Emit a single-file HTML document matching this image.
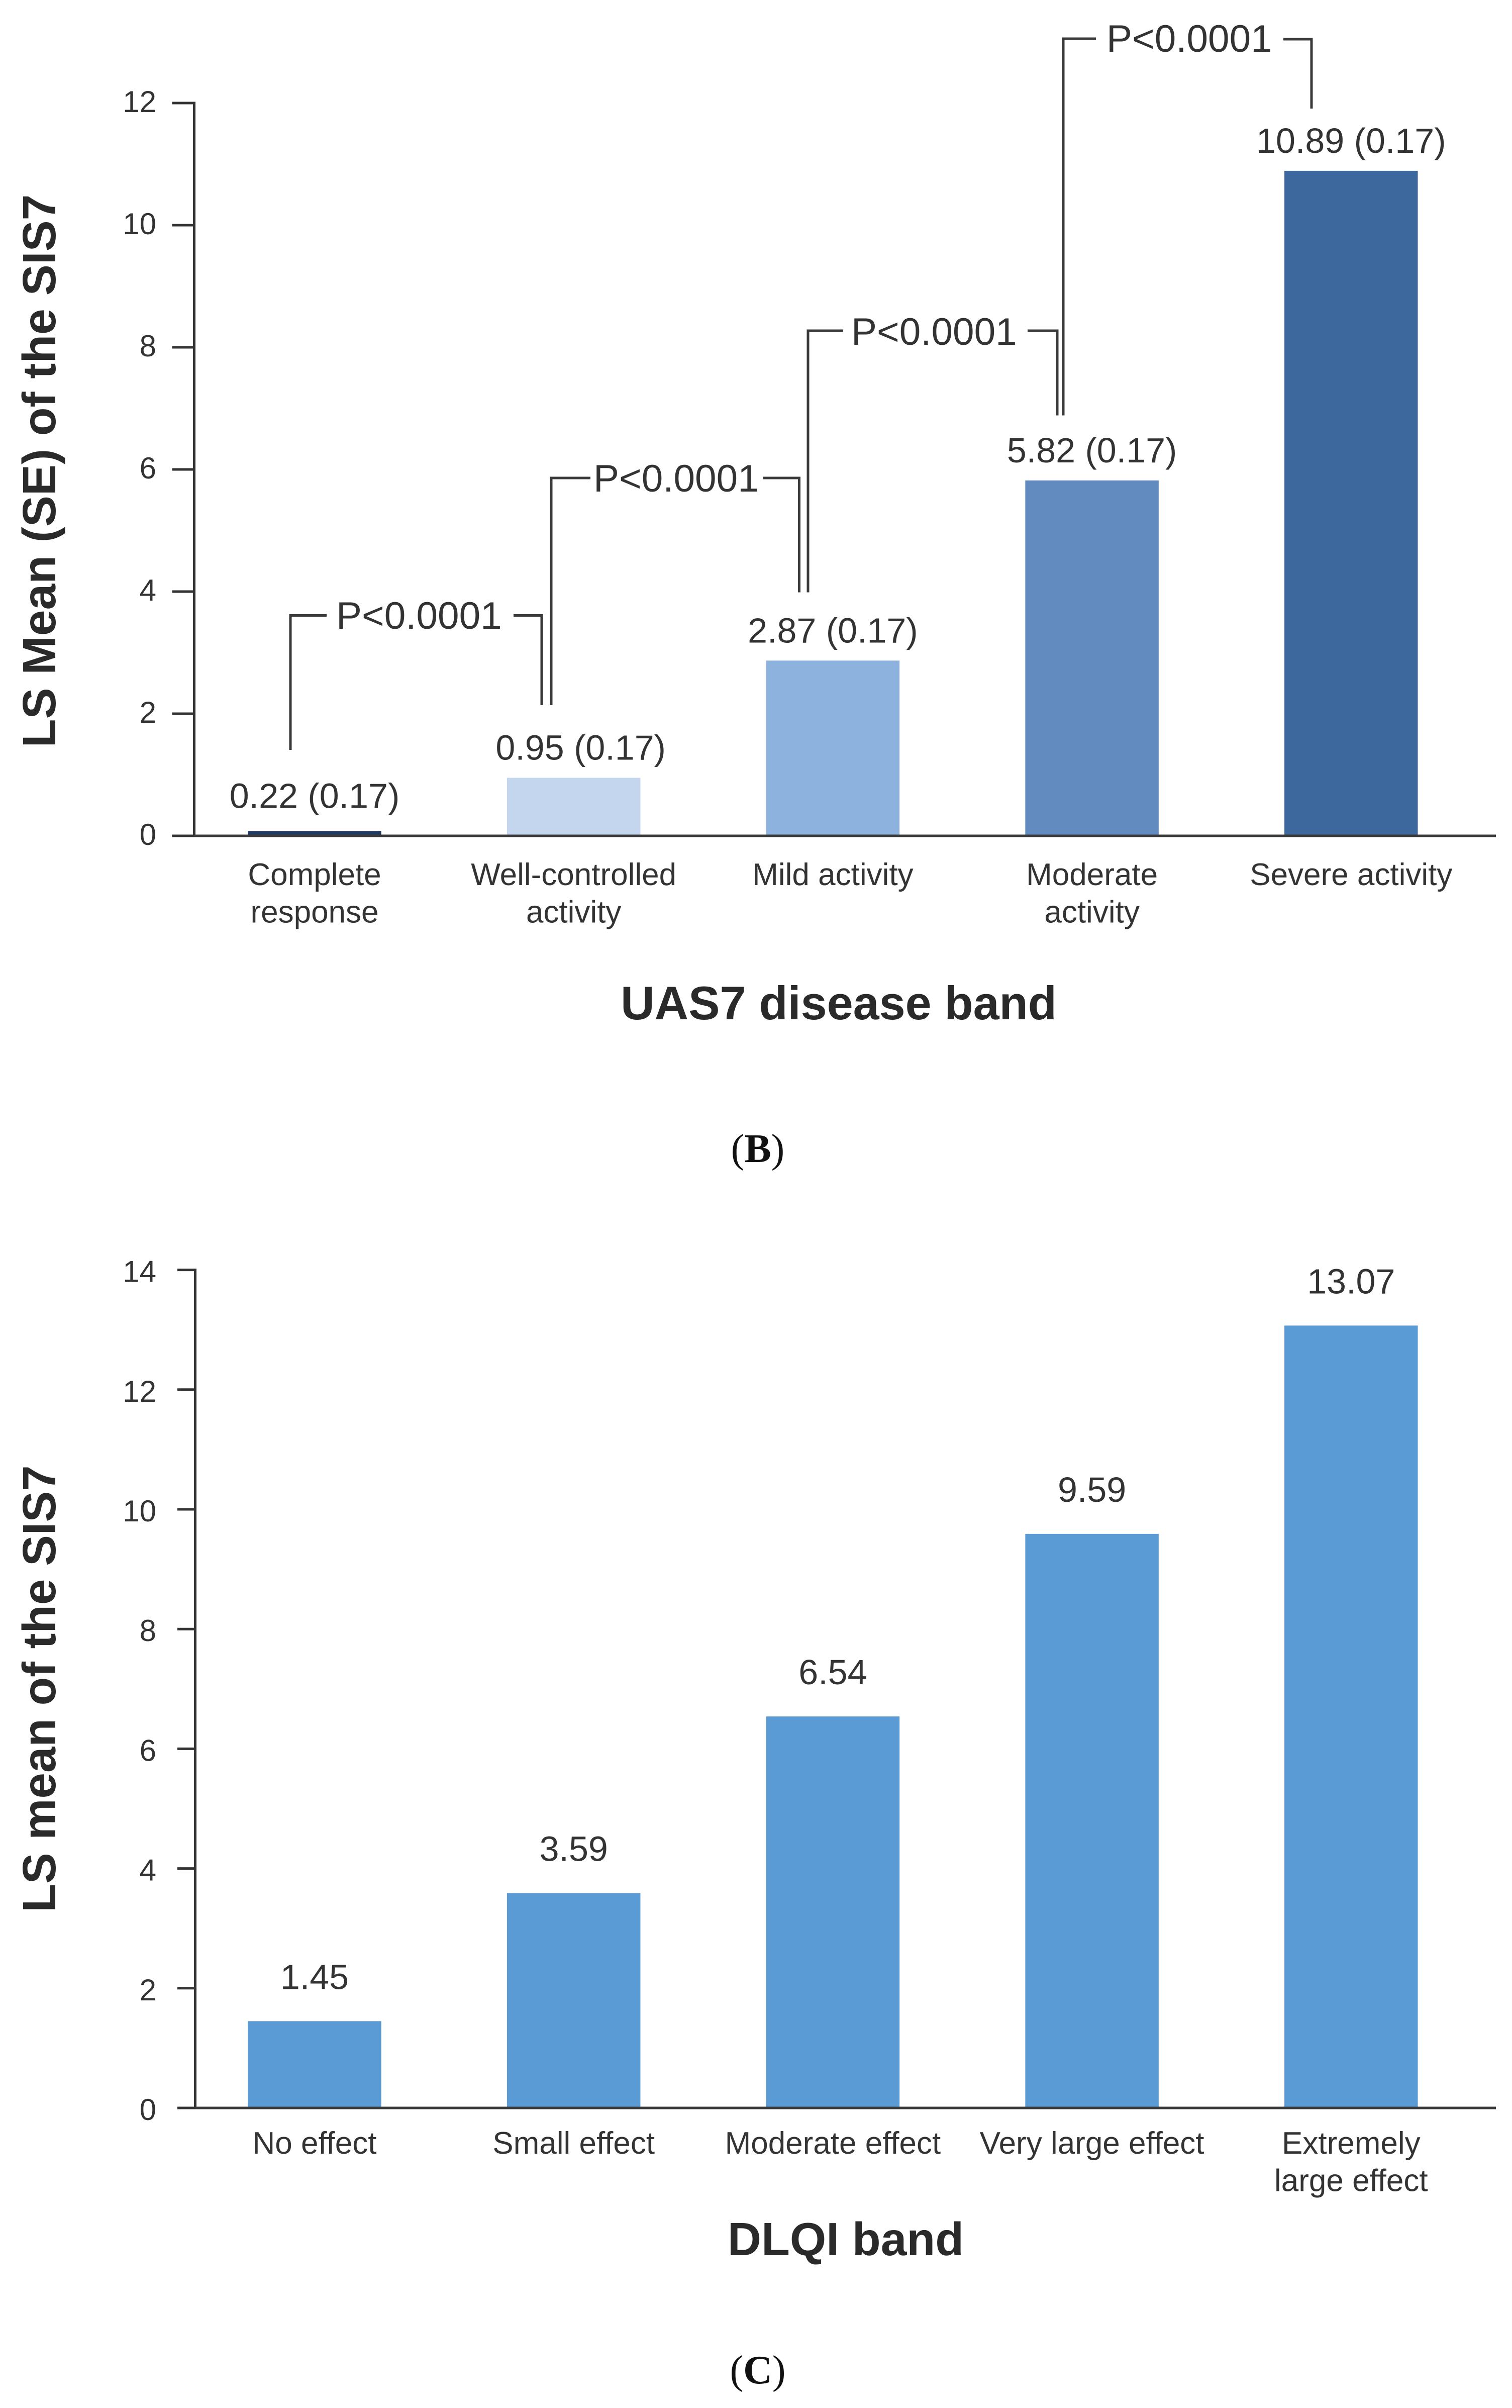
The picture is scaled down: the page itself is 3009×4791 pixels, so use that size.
<!DOCTYPE html>
<html lang="en">
<head>
<meta charset="utf-8">
<title>LS mean of the SIS7 by UAS7 and DLQI band</title>
<style>
  html, body { margin: 0; padding: 0; background: #fff; }
  svg { display: block; }
  text { font-family: "Liberation Sans", sans-serif; fill: #333; }
  .axis-title { font-weight: 700; fill: #2a2a2a; }
  .p-label { font-size: 76.5px; }
  .caption { font-family: "Liberation Serif", serif; font-size: 80px; fill: #111; }
  .bracket { fill: none; stroke: #3a3a3a; stroke-width: 5; }
</style>
</head>
<body>
<svg id="fig" xmlns="http://www.w3.org/2000/svg" width="3009" height="4791" viewBox="0 0 3009 4791">
  <rect x="0" y="0" width="3009" height="4791" fill="#ffffff"/>

  <g id="chart-b">
    <text class="axis-title" font-size="93" transform="translate(110 937) rotate(-90)" text-anchor="middle">LS Mean (SE) of the SIS7</text>
    <text class="axis-title" font-size="93.5" x="1669" y="2028" text-anchor="middle">UAS7 disease band</text>

    <path class="bracket" d="M578 1492V1224.5H650"/>
    <path class="bracket" d="M1022 1224.5H1078V1403"/>
    <text class="p-label" x="669" y="1251">P&lt;0.0001</text>

    <path class="bracket" d="M1097 1403V951H1175"/>
    <path class="bracket" d="M1519 951H1590.5V1178.5"/>
    <text class="p-label" x="1181" y="978">P&lt;0.0001</text>

    <path class="bracket" d="M1608 1178.5V658H1678"/>
    <path class="bracket" d="M2045 658H2104V826.5"/>
    <text class="p-label" x="1694" y="686">P&lt;0.0001</text>

    <path class="bracket" d="M2116 826.5V77H2181"/>
    <path class="bracket" d="M2554 78H2610V216"/>
    <text class="p-label" x="2202" y="103">P&lt;0.0001</text>
  </g>

  <text class="caption" x="1508" y="2312" text-anchor="middle">(<tspan font-weight="700">B</tspan>)</text>

  <g id="chart-c">
    <text class="axis-title" font-size="92.5" transform="translate(110 3360) rotate(-90)" text-anchor="middle">LS mean of the SIS7</text>
    <text class="axis-title" font-size="93" x="1683" y="4487" text-anchor="middle">DLQI band</text>
  </g>

  <text class="caption" x="1508" y="4742" text-anchor="middle">(<tspan font-weight="700">C</tspan>)</text>
</svg>

<script>
// Chart B data
var categoriesB = [["Complete", "response"], ["Well-controlled", "activity"], ["Mild activity"], ["Moderate", "activity"], ["Severe activity"]];
var valuesB = [0.08, 0.95, 2.87, 5.82, 10.89];
var printedB = ["0.22 (0.17)", "0.95 (0.17)", "2.87 (0.17)", "5.82 (0.17)", "10.89 (0.17)"];
var ticksB = [0, 2, 4, 6, 8, 10, 12];
var coloursB = ["#203a63", "#c3d6ee", "#8db2de", "#628bc0", "#3d689d"];

// Chart C data
var categoriesC = [["No effect"], ["Small effect"], ["Moderate effect"], ["Very large effect"], ["Extremely", "large effect"]];
var valuesC = [1.45, 3.59, 6.54, 9.59, 13.07];
var printedC = ["1.45", "3.59", "6.54", "9.59", "13.07"];
var ticksC = [0, 2, 4, 6, 8, 10, 12, 14];
var coloursC = ["#5b9bd5", "#5b9bd5", "#5b9bd5", "#5b9bd5", "#5b9bd5"];

var NS = "http://www.w3.org/2000/svg";

function mk(parent, tag, attrs, content) {
  var el = document.createElementNS(NS, tag);
  for (var k in attrs) { el.setAttribute(k, attrs[k]); }
  if (content !== undefined) { el.textContent = content; }
  parent.appendChild(el);
  return el;
}

function drawChart(parent, suffix, categories, values, printed, ticks, colours, o) {
  function y(v) { return o.y0 - v * o.unit; }
  function x(i) { return o.x0 + i * o.step; }

  values.forEach(function (v, i) {
    var bar = mk(parent, "rect", { x: x(i) - o.barW / 2, y: y(v), width: o.barW, height: o.y0 - y(v), fill: colours[i] });
    
    

    var label = mk(parent, "text", { x: x(i) + o.labelDx(i), y: y(v) - o.labelGap - o.labelDy(i), "text-anchor": "middle", "font-size": 70 }, printed[i]);
    
    

    categories[i].forEach(function (line, j) {
      var cat = mk(parent, "text", { x: x(i), y: o.catY + j * 74.5, "text-anchor": "middle", "font-size": 62 }, line);
      
      
    });
  });

  var yAxis = mk(parent, "line", { x1: o.axisX, x2: o.axisX, y1: y(ticks[ticks.length - 1]) - 2.5, y2: o.y0, stroke: "#333", "stroke-width": 5 });
  
  

  var xAxis = mk(parent, "line", { x1: o.tickX, x2: o.axisEnd, y1: o.y0, y2: o.y0, stroke: "#3a3a3a", "stroke-width": 5 });
  
  

  ticks.forEach(function (t) {
    var tick = mk(parent, "line", { x1: o.tickX, x2: o.axisX, y1: y(t), y2: y(t), stroke: "#333", "stroke-width": 5 });
    
    

    var tickLabel = mk(parent, "text", { x: 311, y: y(t) + o.tickDy, "text-anchor": "end", "font-size": 60 }, String(t));
    
    
  });
}

drawChart(document.getElementById("chart-b"), "b", categoriesB, valuesB, printedB, ticksB, coloursB, {
  y0: 1663, unit: 121.5, x0: 626, step: 515.7, barW: 265.5, axisX: 386.5, tickX: 342.5, axisEnd: 2977,
  labelGap: 36, catY: 1761, tickDy: 18,
  labelDx: function (i) { return i === 1 ? 14 : 0; },
  labelDy: function (i) { return i === 0 ? 10 : 0; }
});

drawChart(document.getElementById("chart-c"), "c", categoriesC, valuesC, printedC, ticksC, coloursC, {
  y0: 4194, unit: 119.1, x0: 626, step: 515.7, barW: 265.5, axisX: 388.5, tickX: 353, axisEnd: 2977,
  labelGap: 64, catY: 4285, tickDy: 24,
  labelDx: function () { return 0; },
  labelDy: function () { return 0; }
});
</script>
</body>
</html>
